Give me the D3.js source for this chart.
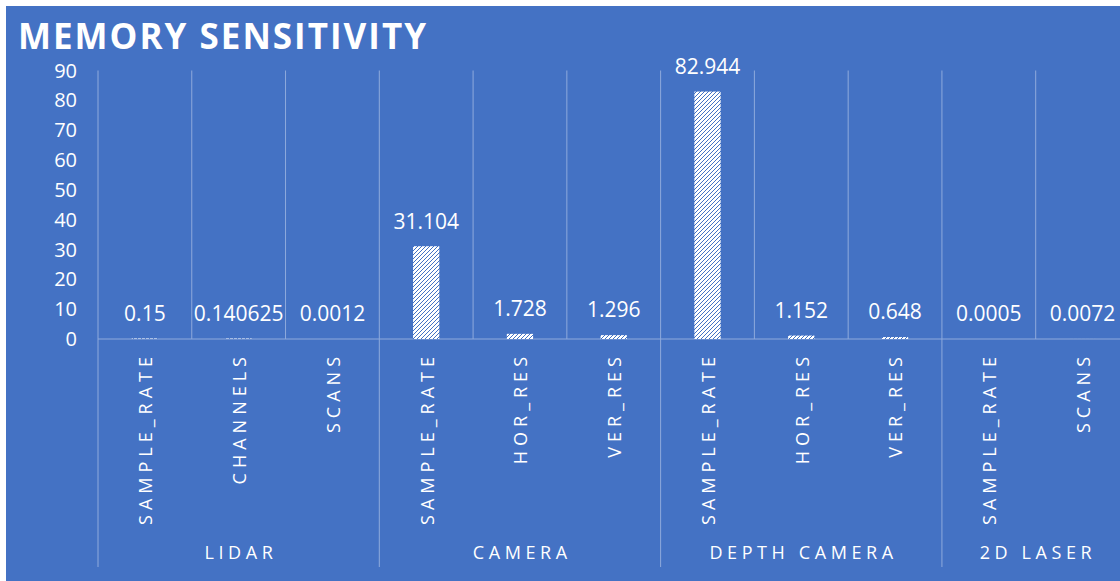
<!DOCTYPE html>
<html>
<head>
<meta charset="utf-8">
<script src="https://cdn.jsdelivr.net/npm/d3@7"></script>
<style>
  html, body { margin: 0; padding: 0; background: #ffffff; }
  svg { display: block; }
  text { font-family: "Open Sans", "Noto Sans", sans-serif; fill: #ffffff; }
</style>
</head>
<body>
<svg id="chart" width="1120" height="581"></svg>
<script>
// Sensor groups and the parameter measured under each
const groups = ["LIDAR", "CAMERA", "DEPTH CAMERA", "2D LASER"];
const params = ["SAMPLE_RATE", "CHANNELS", "SCANS",
                "SAMPLE_RATE", "HOR_RES", "VER_RES",
                "SAMPLE_RATE", "HOR_RES", "VER_RES",
                "SAMPLE_RATE", "SCANS"];
const groupIndex = [0, 0, 0, 1, 1, 1, 2, 2, 2, 3, 3];
const labels = ["0.15", "0.140625", "0.0012",
                "31.104", "1.728", "1.296",
                "82.944", "1.152", "0.648",
                "0.0005", "0.0072"];
const values = labels.map(Number);
const yTicks = [0, 10, 20, 30, 40, 50, 60, 70, 80, 90];

const W = 1120, H = 581;
const BLUE = "#4472C4";
const GRID = "#8FAADC";

const svg = d3.select("#chart");

// pattern fill: white with blue upward diagonal stripes
const defs = svg.append("defs");
const pat = defs.append("pattern")
  .attr("id", "upDiag")
  .attr("patternUnits", "userSpaceOnUse")
  .attr("width", 4).attr("height", 4);
pat.append("rect").attr("width", 4).attr("height", 4).attr("fill", "#ffffff");
[[0, 3], [1, 2], [2, 1], [3, 0]].forEach(([px, py]) => {
  pat.append("rect").attr("x", px).attr("y", py)
    .attr("width", 1).attr("height", 1).attr("fill", BLUE);
});

// chart background
svg.append("rect")
  .attr("x", 6).attr("y", 6)
  .attr("width", W - 6).attr("height", H - 6)
  .attr("fill", BLUE);

// title
svg.append("text")
  .attr("x", 18).attr("y", 49)
  .attr("font-size", 35)
  .attr("font-weight", 700)
  .attr("letter-spacing", 2)
  .text("MEMORY SENSITIVITY");

// scales
const plotLeft = 98, step = 93.77;
const x = d3.scaleBand()
  .domain(d3.range(params.length))
  .range([plotLeft, plotLeft + step * params.length])
  .paddingInner(0.72)
  .paddingOuter(0.36);
const y = d3.scaleLinear().domain([0, 90]).range([339, 70.5]);

const boundary = i => plotLeft + i * x.step();

// vertical gridlines between categories
svg.append("g").selectAll("line")
  .data(d3.range(params.length + 1))
  .join("line")
  .attr("x1", d => boundary(d)).attr("x2", d => boundary(d))
  .attr("y1", y(90)).attr("y2", y(0))
  .attr("stroke", GRID).attr("stroke-width", 1);

// group separators below the axis
const groupStarts = groups.map((g, gi) => groupIndex.indexOf(gi)).concat([params.length]);
svg.append("g").selectAll("line")
  .data(groupStarts)
  .join("line")
  .attr("x1", d => boundary(d)).attr("x2", d => boundary(d))
  .attr("y1", y(0)).attr("y2", 567)
  .attr("stroke", GRID).attr("stroke-width", 1);

// category axis line
svg.append("line")
  .attr("x1", plotLeft).attr("x2", W)
  .attr("y1", y(0)).attr("y2", y(0))
  .attr("stroke", GRID).attr("stroke-width", 1);

// y tick labels
svg.append("g").selectAll("text")
  .data(yTicks)
  .join("text")
  .attr("x", 77).attr("y", d => y(d))
  .attr("dy", "0.35em")
  .attr("text-anchor", "end")
  .attr("font-size", 20)
  .text(d => d);

// bars
svg.append("g").selectAll("rect")
  .data(values)
  .join("rect")
  .attr("x", (d, i) => x(i))
  .attr("width", x.bandwidth())
  .attr("y", d => y(d))
  .attr("height", d => y(0) - y(d))
  .attr("fill", "url(#upDiag)");

// value labels
svg.append("g").selectAll("text")
  .data(values)
  .join("text")
  .attr("x", (d, i) => x(i) + x.bandwidth() / 2)
  .attr("y", d => y(d) - 25)
  .attr("dy", "0.35em")
  .attr("text-anchor", "middle")
  .attr("font-size", 21)
  .text((d, i) => labels[i]);

// parameter labels, rotated
const ls = 5;
svg.append("g").selectAll("text")
  .data(params)
  .join("text")
  .attr("transform", (d, i) =>
    `translate(${x(i) + x.bandwidth() / 2 + 1},${357 - ls}) rotate(-90)`)
  .attr("dy", "0.35em")
  .attr("text-anchor", "end")
  .attr("font-size", 18)
  .attr("letter-spacing", ls)
  .text(d => d);

// group labels
const gls = 4.6;
svg.append("g").selectAll("text")
  .data(groups)
  .join("text")
  .attr("x", (d, gi) => (boundary(groupStarts[gi]) + boundary(groupStarts[gi + 1])) / 2 + gls / 2)
  .attr("y", 553)
  .attr("dy", "0.35em")
  .attr("text-anchor", "middle")
  .attr("font-size", 18)
  .attr("letter-spacing", gls)
  .text(d => d);
</script>
</body>
</html>
